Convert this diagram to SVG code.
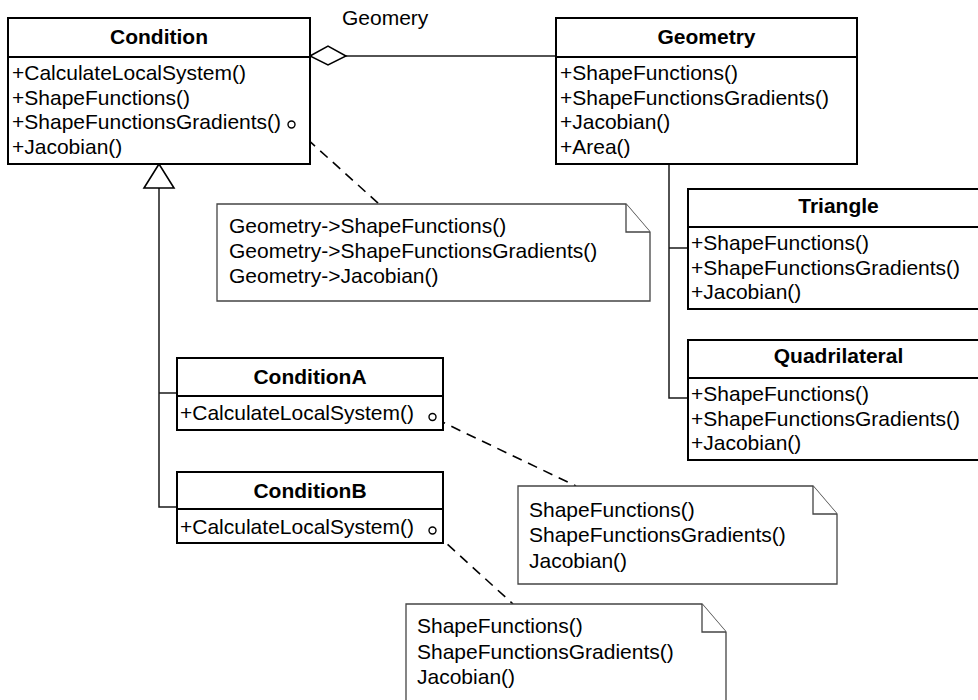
<svg xmlns="http://www.w3.org/2000/svg" width="978" height="700" viewBox="0 0 978 700">
  <style>
    text { font-family: "Liberation Sans", Arial, sans-serif; font-size: 21px; fill: #000; }
    .title { font-weight: bold; text-anchor: middle; }
    .box { fill: #fff; stroke: #000; stroke-width: 2; }
    .sep { stroke: #000; stroke-width: 2; }
    .note { fill: #fff; stroke: #444; stroke-width: 1.3; }
    .link { fill: none; stroke: #1a1a1a; stroke-width: 1.5; }
    .dash { fill: none; stroke: #000; stroke-width: 1.6; stroke-dasharray: 10 7; }
    .anchor { fill: #fff; stroke: #000; stroke-width: 1.4; }
  </style>
  <rect width="978" height="700" fill="#fff"/>

  <!-- connectors -->
  <g id="connectors">
    <!-- aggregation Condition <>— Geometry -->
    <line class="link" x1="346" y1="56" x2="556" y2="56"/>
    <polygon points="310,56 328,46 346,56 328,65" fill="#fff" stroke="#000" stroke-width="1.5"/>
    <text x="342" y="25">Geomery</text>
    <!-- generalization ConditionA/B -> Condition -->
    <polyline class="link" points="159,188 159,507 177,507"/>
    <line class="link" x1="159" y1="393" x2="177" y2="393"/>
    <polygon points="159,164 144,188 174,188" fill="#fff" stroke="#000" stroke-width="1.6"/>
    <!-- Geometry hierarchy -->
    <polyline class="link" points="669,164 669,398 688,398"/>
    <line class="link" x1="669" y1="248" x2="688" y2="248"/>
    <!-- note anchors -->
    <line class="dash" x1="295" y1="128" x2="379" y2="204"/>
    <line class="dash" x1="436" y1="419" x2="576" y2="486"/>
    <line class="dash" x1="435" y1="533" x2="513" y2="604"/>
  </g>

  <g id="Condition">
    <rect class="box" x="8" y="18" width="302" height="146"/>
    <line class="sep" x1="8" y1="57" x2="310" y2="57"/>
    <text class="title" x="159" y="44">Condition</text>
    <text x="12" y="80">+CalculateLocalSystem()</text>
    <text x="12" y="104.5">+ShapeFunctions()</text>
    <text x="12" y="129">+ShapeFunctionsGradients()</text>
    <text x="12" y="153.5">+Jacobian()</text>
    <circle class="anchor" cx="291.5" cy="124.5" r="3.5"/>
  </g>

  <g id="Geometry">
    <rect class="box" x="556" y="18" width="301" height="146"/>
    <line class="sep" x1="556" y1="57" x2="857" y2="57"/>
    <text class="title" x="706.5" y="44">Geometry</text>
    <text x="560" y="80">+ShapeFunctions()</text>
    <text x="560" y="104.5">+ShapeFunctionsGradients()</text>
    <text x="560" y="129">+Jacobian()</text>
    <text x="560" y="153.5">+Area()</text>
  </g>

  <g id="Triangle">
    <rect class="box" x="688" y="189" width="301" height="120"/>
    <line class="sep" x1="688" y1="227" x2="989" y2="227"/>
    <text class="title" x="838.5" y="213">Triangle</text>
    <text x="691" y="250">+ShapeFunctions()</text>
    <text x="691" y="274.5">+ShapeFunctionsGradients()</text>
    <text x="691" y="299">+Jacobian()</text>
  </g>

  <g id="Quadrilateral">
    <rect class="box" x="688" y="340" width="301" height="120"/>
    <line class="sep" x1="688" y1="378" x2="989" y2="378"/>
    <text class="title" x="838.5" y="363">Quadrilateral</text>
    <text x="691" y="401">+ShapeFunctions()</text>
    <text x="691" y="425.5">+ShapeFunctionsGradients()</text>
    <text x="691" y="450">+Jacobian()</text>
  </g>

  <g id="ConditionA">
    <rect class="box" x="177" y="358" width="266" height="72"/>
    <line class="sep" x1="177" y1="396" x2="443" y2="396"/>
    <text class="title" x="310" y="384">ConditionA</text>
    <text x="180" y="420">+CalculateLocalSystem()</text>
    <circle class="anchor" cx="432.5" cy="417" r="3.5"/>
  </g>

  <g id="ConditionB">
    <rect class="box" x="177" y="472" width="266" height="71"/>
    <line class="sep" x1="177" y1="509" x2="443" y2="509"/>
    <text class="title" x="310" y="498">ConditionB</text>
    <text x="180" y="534">+CalculateLocalSystem()</text>
    <circle class="anchor" cx="432.5" cy="530.5" r="3.5"/>
  </g>

  <g id="NoteCondition">
    <polygon class="note" points="217,204 626,204 650,232 650,301 217,301"/>
    <polyline class="note" points="626,204 626,232 650,232" fill="none"/>
    <text x="229" y="233">Geometry-&gt;ShapeFunctions()</text>
    <text x="229" y="258">Geometry-&gt;ShapeFunctionsGradients()</text>
    <text x="229" y="283">Geometry-&gt;Jacobian()</text>
  </g>

  <g id="NoteConditionA">
    <polygon class="note" points="518,486 813,486 837,514 837,584 518,584"/>
    <polyline class="note" points="813,486 813,514 837,514" fill="none"/>
    <text x="529" y="517">ShapeFunctions()</text>
    <text x="529" y="542">ShapeFunctionsGradients()</text>
    <text x="529" y="567.5">Jacobian()</text>
  </g>

  <g id="NoteConditionB">
    <polygon class="note" points="406,604 702,604 726,632 726,712 406,712"/>
    <polyline class="note" points="702,604 702,632 726,632" fill="none"/>
    <text x="417" y="633">ShapeFunctions()</text>
    <text x="417" y="659">ShapeFunctionsGradients()</text>
    <text x="417" y="684">Jacobian()</text>
  </g>
</svg>
